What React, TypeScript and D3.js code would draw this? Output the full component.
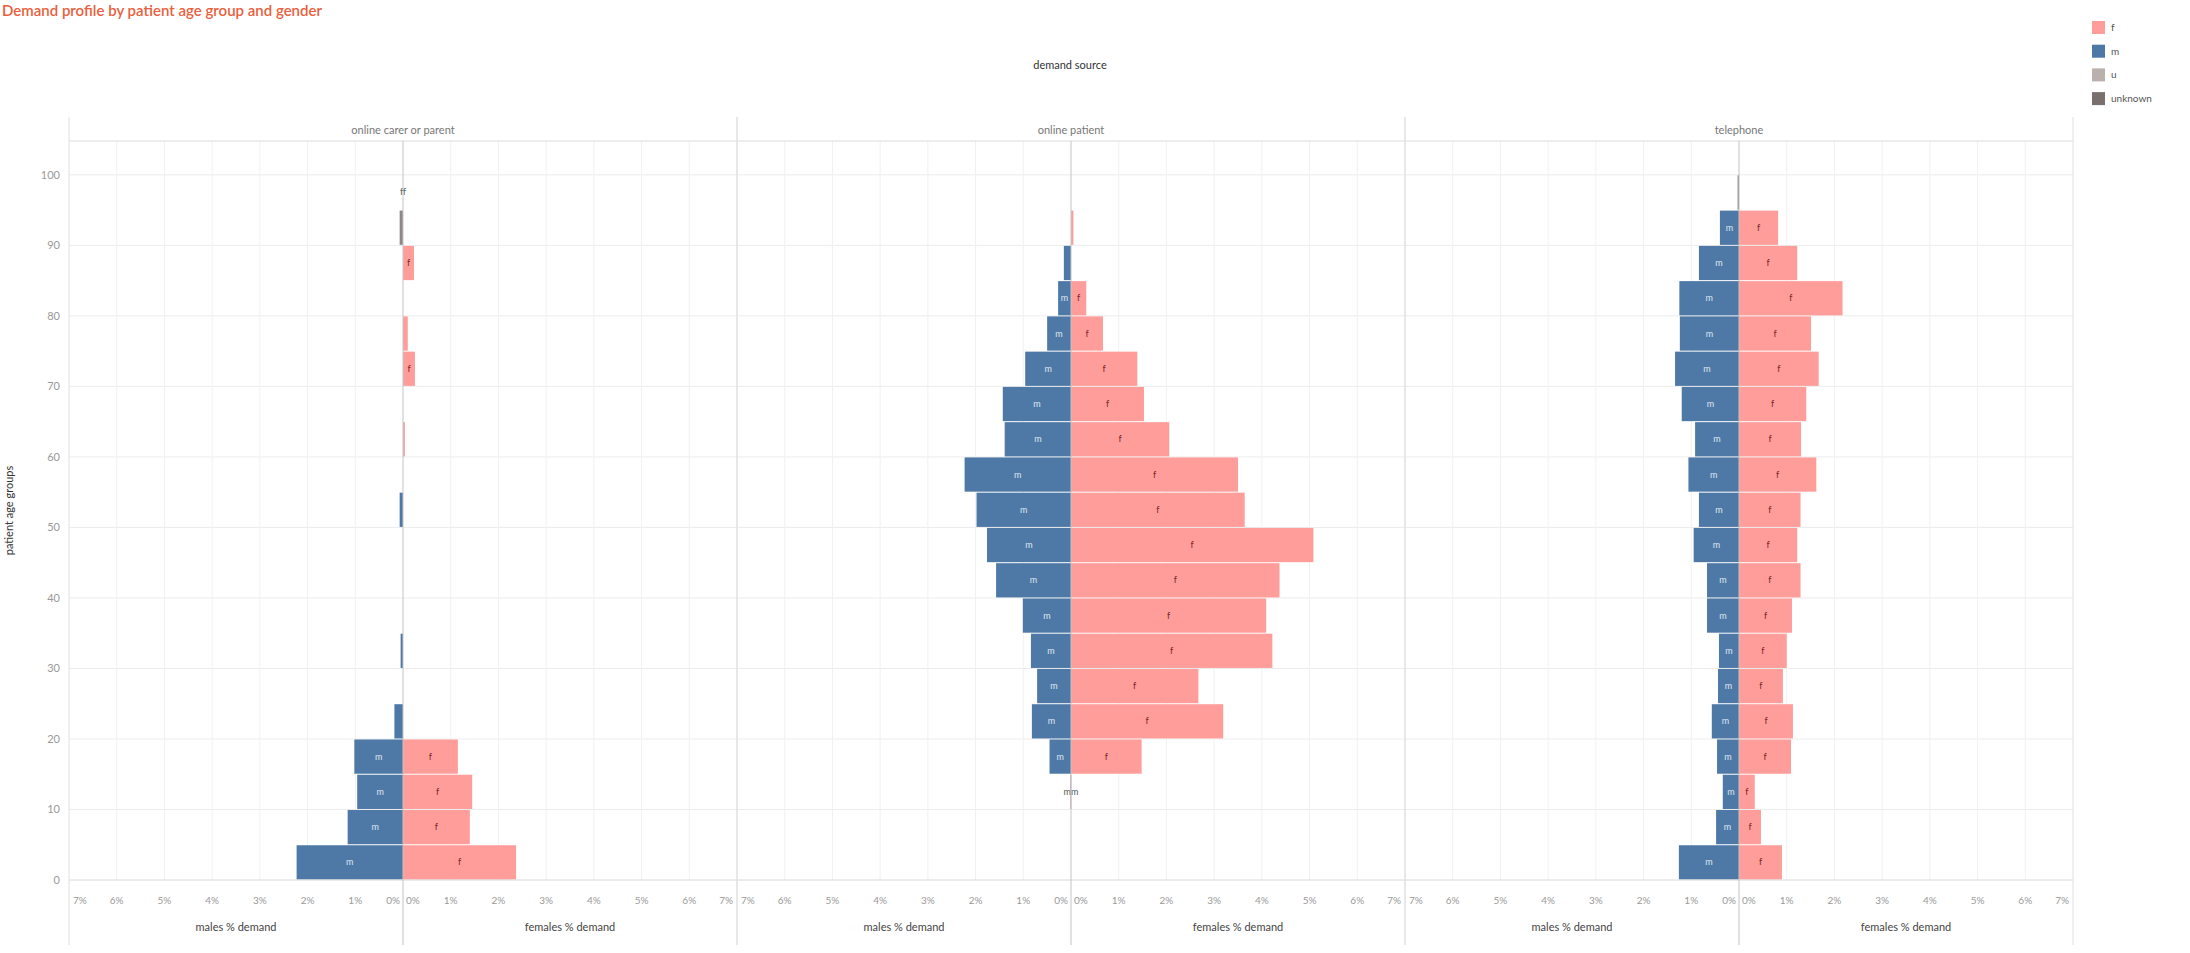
import React from "react";
import * as d3 from "d3";

// ---------- data ----------
const ageGroups = [0, 5, 10, 15, 20, 25, 30, 35, 40, 45, 50, 55, 60, 65, 70, 75, 80, 85, 90, 95];
const panelNames = ["online carer or parent", "online patient", "telephone"];

const carerMale = [2.23, 1.16, 0.96, 1.02, 0.18, 0, 0.05, 0, 0, 0, 0.07, 0, 0, 0, 0, 0, 0, 0, 0, 0];
const carerFemale = [2.37, 1.4, 1.45, 1.15, 0, 0, 0, 0, 0, 0, 0, 0, 0.04, 0, 0.25, 0.1, 0, 0.23, 0, 0];
const carerUnknown = [0, 0, 0, 0, 0, 0, 0, 0, 0, 0, 0, 0, 0, 0, 0, 0, 0, 0, 0.07, 0];

const patientMale = [0, 0, 0.01, 0.45, 0.82, 0.71, 0.84, 1.01, 1.57, 1.76, 1.98, 2.23, 1.39, 1.43, 0.96, 0.5, 0.27, 0.15, 0, 0];
const patientFemale = [0, 0, 0.01, 1.48, 3.19, 2.67, 4.22, 4.09, 4.37, 5.08, 3.64, 3.5, 2.06, 1.53, 1.39, 0.67, 0.32, 0, 0.05, 0];
const patientUnknown = [0, 0, 0, 0, 0, 0, 0, 0, 0, 0, 0, 0, 0, 0, 0, 0, 0, 0, 0, 0];

const phoneMale = [1.26, 0.48, 0.34, 0.46, 0.57, 0.44, 0.42, 0.67, 0.67, 0.95, 0.84, 1.06, 0.92, 1.2, 1.34, 1.24, 1.25, 0.84, 0.4, 0];
const phoneFemale = [0.9, 0.46, 0.33, 1.09, 1.13, 0.92, 1.0, 1.11, 1.29, 1.22, 1.29, 1.62, 1.3, 1.41, 1.67, 1.51, 2.17, 1.22, 0.82, 0];
const phoneUnknown = [0, 0, 0, 0, 0, 0, 0, 0, 0, 0, 0, 0, 0, 0, 0, 0, 0, 0, 0, 0.03];

const maleSeries = [carerMale, patientMale, phoneMale];
const femaleSeries = [carerFemale, patientFemale, phoneFemale];
const unknownSeries = [carerUnknown, patientUnknown, phoneUnknown];

// labels of tiny bars that were pushed outside the marks
const outsideLabels = [
  { panel: 0, age: 97.5, text: "ff" },
  { panel: 1, age: 12.5, text: "mm" },
];

const xTicks = [0, 1, 2, 3, 4, 5, 6, 7];
const yTicks = [0, 10, 20, 30, 40, 50, 60, 70, 80, 90, 100];
const legendKeys = ["f", "m", "u", "unknown"];
const legendColors = ["#ff9d9a", "#4e79a7", "#bab0ac", "#79706e"];

// ---------- layout ----------
const W = 2190;
const H = 953;
const FONT = "Lato, 'Open Sans', sans-serif";
const panelLeft0 = 69;
const panelW = 668;
const plotTop = 141;
const plotBottom = 880;
const headerTop = 117;
const frameBottom = 945;
const binSize = 5;

const y = d3.scaleLinear().domain([0, 104.8]).range([plotBottom, plotTop]);

export default function App() {
  const bandH = y(0) - y(binSize);
  const panels = panelNames.map((name, i) => {
    const left = panelLeft0 + i * panelW;
    const center = left + panelW / 2;
    const right = left + panelW;
    const xm = d3.scaleLinear().domain([0, 7]).range([center, left]);
    const xf = d3.scaleLinear().domain([0, 7]).range([center, right]);
    return { name, i, left, center, right, xm, xf };
  });

  return (
    <svg
      width={W}
      height={H}
      style={{ position: "absolute", left: 0, top: 0, background: "#fff" }}
      fontFamily={FONT}
    >
      {/* title */}
      <text x={2} y={16} fontSize={15} fill="#e8603c" fontWeight={600}>
        Demand profile by patient age group and gender
      </text>

      <text x={1070} y={69} textAnchor="middle" fontSize={11} fill="#333">
        demand source
      </text>

      {/* y axis title */}
      <text
        transform={`translate(13, ${(plotTop + plotBottom) / 2}) rotate(-90)`}
        textAnchor="middle"
        fontSize={11}
        fill="#333"
      >
        patient age groups
      </text>

      {/* y tick labels */}
      {yTicks.map((t) => (
        <text key={t} x={60} y={y(t) + 4} textAnchor="end" fontSize={11} fill="#999">
          {t}
        </text>
      ))}

      {/* horizontal gridlines */}
      {yTicks.slice(1).map((t) => (
        <line
          key={t}
          x1={panelLeft0}
          x2={panelLeft0 + 3 * panelW}
          y1={y(t)}
          y2={y(t)}
          stroke="#ececec"
          strokeWidth={1}
        />
      ))}

      {panels.map((p) => (
        <g key={p.name}>
          {/* vertical gridlines */}
          {xTicks.slice(1, 7).map((t) => (
            <g key={t}>
              <line x1={p.xm(t)} x2={p.xm(t)} y1={plotTop} y2={plotBottom} stroke="#f1f1f1" />
              <line x1={p.xf(t)} x2={p.xf(t)} y1={plotTop} y2={plotBottom} stroke="#f1f1f1" />
            </g>
          ))}

          {/* header */}
          <text x={p.center} y={134} textAnchor="middle" fontSize={11} fill="#777">
            {p.name}
          </text>
          <line x1={p.left} x2={p.right} y1={plotTop} y2={plotTop} stroke="#dcdcdc" />

          {/* bars */}
          {ageGroups.map((a, k) => {
            const m = maleSeries[p.i][k];
            const f = femaleSeries[p.i][k];
            const u = unknownSeries[p.i][k];
            const yTop = y(a + binSize) + 0.5;
            const h = bandH - 1;
            const mw = p.xm(0) - p.xm(m);
            const fw = p.xf(f) - p.xf(0);
            const uw = p.xm(0) - p.xm(u);
            const cy = yTop + h / 2 + 3;
            return (
              <g key={a}>
                {m > 0 && <rect x={p.xm(m)} y={yTop} width={mw} height={h} fill="#4e79a7" />}
                {f > 0 && <rect x={p.xf(0)} y={yTop} width={fw} height={h} fill="#ff9d9a" />}
                {u > 0 && <rect x={p.xm(u)} y={yTop} width={Math.max(uw, 1.5)} height={h} fill="#8d8785" />}
                {mw >= 12 && (
                  <text x={p.xm(m / 2)} y={cy} textAnchor="middle" fontSize={9} fill="#dfe7f0">
                    m
                  </text>
                )}
                {fw >= 10 && (
                  <text x={p.xf(f / 2)} y={cy} textAnchor="middle" fontSize={9} fill="#7a2424">
                    f
                  </text>
                )}
              </g>
            );
          })}

          {outsideLabels
            .filter((l) => l.panel === p.i)
            .map((l) => (
              <text key={l.text} x={p.center} y={y(l.age) + 3} textAnchor="middle" fontSize={9} fill="#4d5a50">
                {l.text}
              </text>
            ))}

          {/* x axis line */}
          <line x1={p.left} x2={p.right} y1={plotBottom} y2={plotBottom} stroke="#d8d8d8" />

          {/* center divider */}
          <line x1={p.center} x2={p.center} y1={plotTop} y2={frameBottom} stroke="#c4c4c4" />

          {/* panel borders */}
          <line x1={p.left} x2={p.left} y1={headerTop} y2={frameBottom} stroke="#e0e0e0" />
          <line x1={p.right} x2={p.right} y1={headerTop} y2={frameBottom} stroke="#e0e0e0" />

          {/* x tick labels */}
          {xTicks.map((t) => {
            const anchorM = t === 0 ? "end" : t === 7 ? "start" : "middle";
            const dxM = t === 0 ? -3 : t === 7 ? 4 : 0;
            const anchorF = t === 0 ? "start" : t === 7 ? "end" : "middle";
            const dxF = t === 0 ? 3 : t === 7 ? -4 : 0;
            return (
              <g key={t}>
                <text x={p.xm(t) + dxM} y={904} textAnchor={anchorM} fontSize={10} fill="#999">
                  {t}%
                </text>
                <text x={p.xf(t) + dxF} y={904} textAnchor={anchorF} fontSize={10} fill="#999">
                  {t}%
                </text>
              </g>
            );
          })}

          {/* axis titles */}
          <text x={p.xm(3.5)} y={931} textAnchor="middle" fontSize={11} fill="#444">
            males % demand
          </text>
          <text x={p.xf(3.5)} y={931} textAnchor="middle" fontSize={11} fill="#444">
            females % demand
          </text>
        </g>
      ))}

      {/* legend */}
      {legendKeys.map((k, i) => (
        <g key={k} transform={`translate(2092, ${21 + i * 23.7})`}>
          <rect x={0} y={0} width={13} height={13} fill={legendColors[i]} />
          <text x={19} y={10} fontSize={10} fill="#555">
            {k}
          </text>
        </g>
      ))}
    </svg>
  );
}
